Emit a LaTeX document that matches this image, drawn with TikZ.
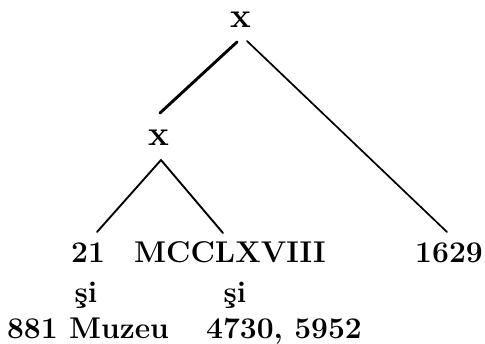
\documentclass[tikz,border=0pt]{standalone}
\usetikzlibrary{calc}
\begin{document}
\begin{tikzpicture}[x=1pt,y=-1pt,
  lbl/.style={anchor=base,inner sep=0pt,font=\fontsize{30}{34}\selectfont\bfseries},
  big/.style={lbl,font=\fontsize{35}{38}\selectfont\bfseries},
  edge/.style={line width=1.9pt,line cap=round}]
\useasboundingbox (0,0) rectangle (485,343);
\node[big] (top) at (241,27) {x};
\node[big] (mid) at (159,145) {x};
\node[lbl] (n21) at (88,262) {21};
\node[lbl] (mcc) at (230,262) {MCCLXVIII};
\node[lbl] (n1629) at (449,262) {1629};
\node[lbl] (si1) at (86,302) {şi};
\node[lbl] (si2) at (235,302) {şi};
\node[lbl] (muz) at (88,338) {881 Muzeu};
\node[lbl] (nums) at (284,338) {4730,\ 5952};
\coordinate (tl) at ($(top.base)+(-4,15)$);
\coordinate (tr) at ($(top.base)+(6,14)$);
\coordinate (mt) at ($(mid.base)+(1,-32)$);
\coordinate (mb) at ($(mid.base)+(2,15)$);
\coordinate (e21) at ($(n21.base)+(9,-30)$);
\coordinate (emcc) at ($(mcc.base)+(-7,-29)$);
\coordinate (e1629) at ($(n1629.base)+(-2,-30)$);
\draw[edge,line width=2.9pt] (tl) -- (mt);
\draw[edge,line width=1.7pt] (tr) -- (e1629);
\draw[edge] (mb) -- (e21);
\draw[edge] (mb) -- (emcc);
\end{tikzpicture}
\end{document}
